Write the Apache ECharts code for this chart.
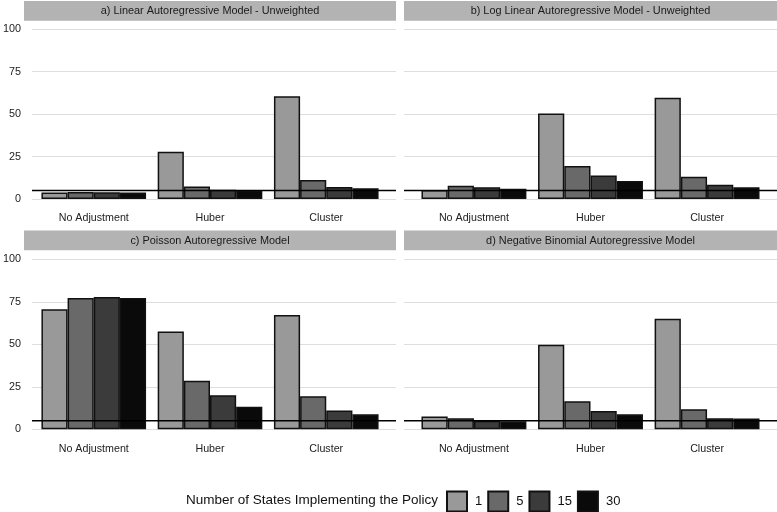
<!DOCTYPE html>
<html>
<head>
<meta charset="utf-8">
<script src="https://cdn.jsdelivr.net/npm/echarts@6/dist/echarts.min.js"></script>
<style>html,body{margin:0;padding:0;background:#fff;}#c{width:777px;height:512px;}</style>
</head>
<body>
<div id="c"></div>
<script>
const categories = ['No Adjustment', 'Huber', 'Cluster'];
const stateCounts = ['1', '5', '15', '30'];
const panelTitles = [
  'a) Linear Autoregressive Model - Unweighted',
  'b) Log Linear Autoregressive Model - Unweighted',
  'c) Poisson Autoregressive Model',
  'd) Negative Binomial Autoregressive Model'
];
// values per panel, per state count, across categories
const panelA = { '1': [3.9, 27.8, 60.6], '5': [4.1, 7.4, 11.2], '15': [4.0, 5.5, 7.1], '30': [3.8, 5.1, 6.3] };
const panelB = { '1': [5.3, 50.4, 59.6], '5': [7.8, 19.4, 13.1], '15': [6.9, 13.9, 8.4], '30': [6.1, 10.6, 6.9] };
const panelC = { '1': [70.6, 57.5, 67.3], '5': [77.3, 28.6, 19.4], '15': [77.8, 20.0, 11.0], '30': [77.2, 13.3, 8.8] };
const panelD = { '1': [7.6, 49.8, 65.1], '5': [6.5, 16.5, 11.8], '15': [5.1, 10.8, 6.5], '30': [4.7, 8.8, 6.3] };
const panelData = [panelA, panelB, panelC, panelD];
const yTicks = [0, 25, 50, 75, 100];
const referenceLevel = 5;

const colors = { '1': '#999999', '5': '#696969', '15': '#3b3b3b', '30': '#0a0a0a' };
const FONT = 'Liberation Sans, Arial, sans-serif';

const panels = [
  { left: 24, width: 372, top: 29.3, height: 169.7, stripTop: 1, showY: true },
  { left: 404, width: 373, top: 29.3, height: 169.7, stripTop: 1, showY: false },
  { left: 24, width: 372, top: 259.3, height: 170, stripTop: 230.5, showY: true },
  { left: 404, width: 373, top: 259.3, height: 170, stripTop: 230.5, showY: false }
];

const grids = [], xAxes = [], yAxes = [], series = [], graphics = [];
panels.forEach((p, i) => {
  grids.push({ left: p.left, top: p.top, width: p.width, height: p.height, containLabel: false });
  xAxes.push({ type: 'value', gridIndex: 2 * i, min: 0, max: 1, show: false });
  yAxes.push({
    type: 'value', gridIndex: 2 * i, min: yTicks[0], max: yTicks[yTicks.length - 1], interval: 25,
    axisLine: { show: false }, axisTick: { show: false },
    axisLabel: { show: p.showY, color: '#222', fontFamily: FONT, fontSize: 10.8, margin: 11 },
    splitLine: { show: true, lineStyle: { color: '#dedede', width: 1 } }
  });
  const band = p.width / 3.2;
  grids.push({ left: p.left + 0.1 * band, top: p.top, width: band * 3, height: p.height, containLabel: false });
  xAxes.push({
    type: 'category', gridIndex: 2 * i + 1, data: categories,
    axisLine: { show: false }, axisTick: { show: false }, splitLine: { show: false },
    axisLabel: { color: '#222', fontFamily: FONT, fontSize: 10.7, margin: 14 }
  });
  yAxes.push({ type: 'value', gridIndex: 2 * i + 1, min: 0, max: 100, show: false, splitLine: { show: false } });

  stateCounts.forEach(s => {
    series.push({
      name: s, type: 'bar', xAxisIndex: 2 * i + 1, yAxisIndex: 2 * i + 1,
      data: panelData[i][s], barGap: '0%', barCategoryGap: '10%', z: 2,
      itemStyle: { color: colors[s], borderColor: '#111', borderWidth: 1.5 },
      emphasis: { disabled: true }, animation: false
    });
  });
  series.push({
    type: 'line', xAxisIndex: 2 * i, yAxisIndex: 2 * i, z: 5,
    data: [[0, referenceLevel], [1, referenceLevel]], symbol: 'none',
    lineStyle: { color: '#000', width: 1.4 }, animation: false, silent: true
  });
  graphics.push({
    type: 'rect', shape: { x: p.left, y: p.stripTop, width: p.width, height: 19.8 },
    style: { fill: '#b3b3b3' }, silent: true
  });
  graphics.push({
    type: 'text', x: p.left + p.width / 2, y: p.stripTop + 10,
    style: { text: panelTitles[i], fill: '#1a1a1a', font: '10.9px ' + FONT, align: 'center', verticalAlign: 'middle' },
    silent: true
  });
});

graphics.push({
  type: 'text', x: 186, y: 500.7,
  style: { text: 'Number of States Implementing the Policy', fill: '#111', font: '13.5px ' + FONT, align: 'left', verticalAlign: 'middle' },
  silent: true
});

const chart = echarts.init(document.getElementById('c'), null, { renderer: 'canvas' });
chart.setOption({
  backgroundColor: '#fff',
  animation: false,
  grid: grids, xAxis: xAxes, yAxis: yAxes, series: series,
  legend: {
    data: stateCounts, left: 446, top: 490.5, padding: 0, itemWidth: 20, itemHeight: 20, itemGap: 5,
    icon: 'rect', selectedMode: false,
    textStyle: { color: '#111', fontFamily: FONT, fontSize: 13, padding: [0, 0, 0, 3] }
  },
  graphic: graphics
});
</script>
</body>
</html>
